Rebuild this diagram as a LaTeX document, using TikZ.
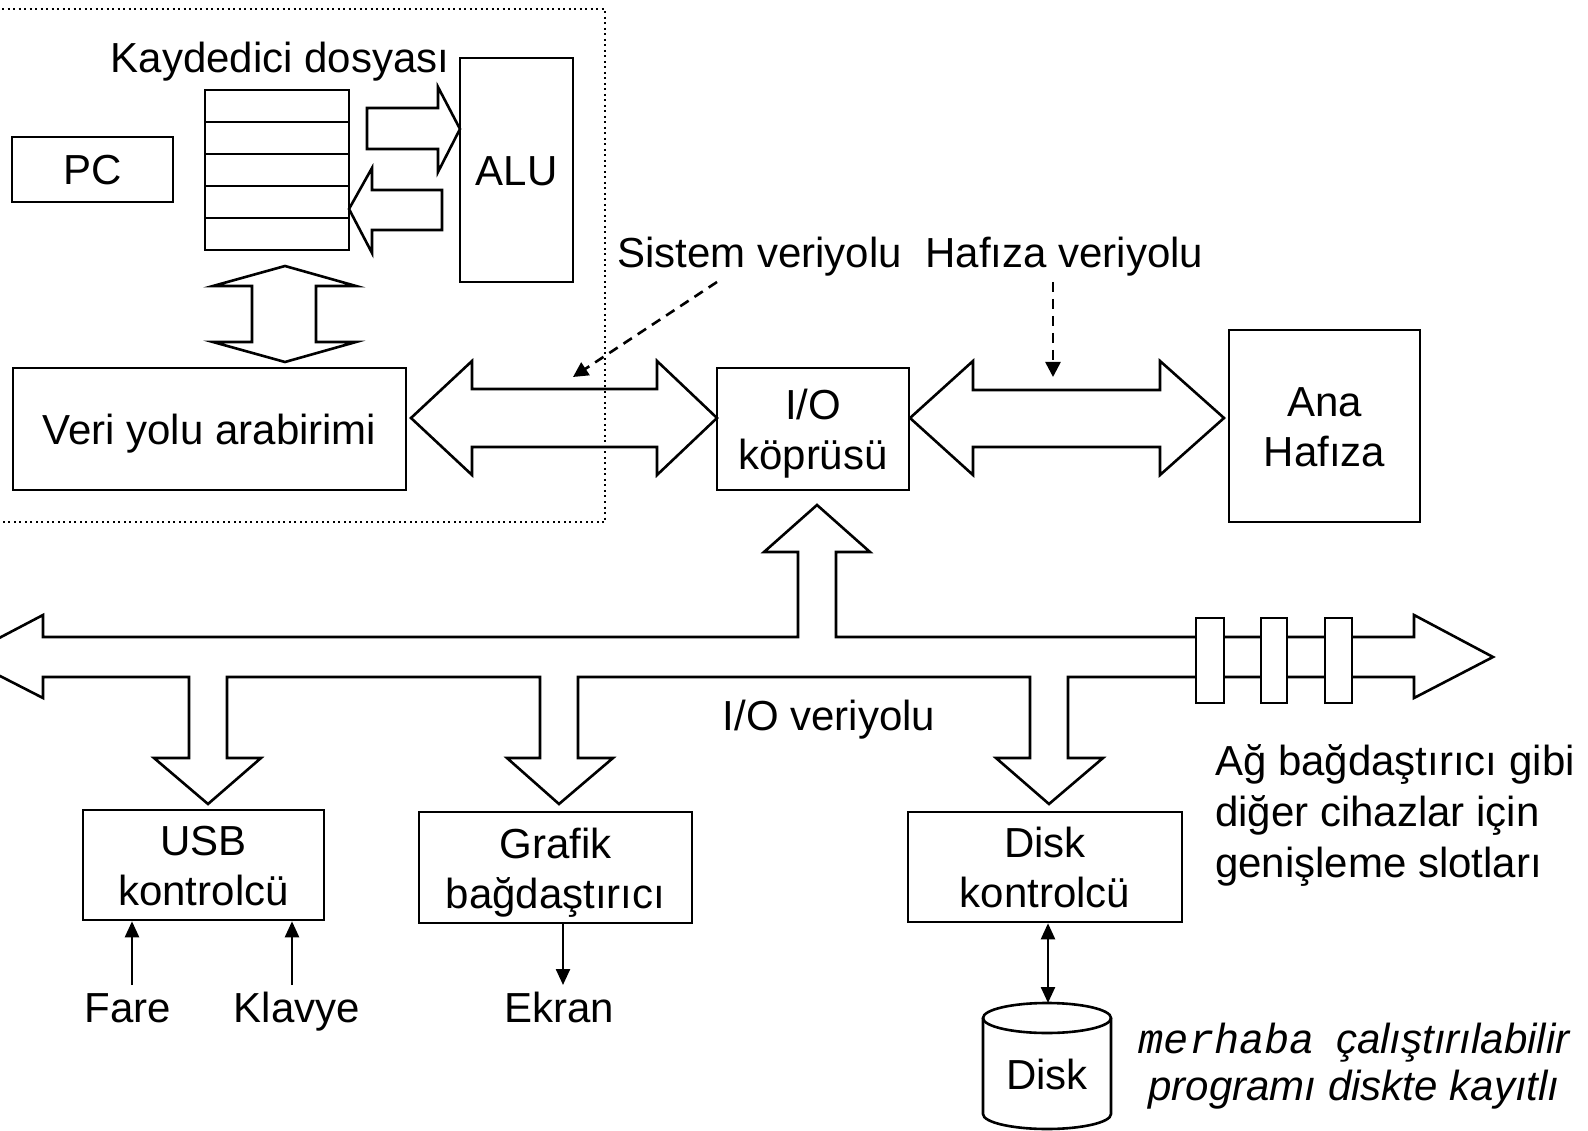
\documentclass[tikz,border=0pt]{standalone}
\usepackage{fontspec}
\setmainfont{Liberation Sans}
\setmonofont{Liberation Mono}
\usetikzlibrary{arrows.meta}
\newcommand{\fixln}[1]{\raisebox{0pt}[31pt][0pt]{#1}}
\begin{document}
\begin{tikzpicture}[x=1pt,y=-1pt,
  every node/.style={font=\fontsize{42}{50}\selectfont, inner sep=0pt},
  box/.style={draw, line width=2.6pt, align=center},
  fat/.style={draw, line width=2.6pt, line join=miter, fill=white},
  thinarr/.style={line width=2.4pt, -{Triangle[length=16pt,width=14pt]}},
  dblarr/.style={line width=2.4pt, {Triangle[length=16pt,width=14pt]}-{Triangle[length=16pt,width=14pt]}},
  dasharr/.style={line width=2.6pt, dash pattern=on 10pt off 7pt, -{Triangle[length=15pt,width=15pt]}},
  dotbox/.style={line width=2pt, dash pattern=on 2pt off 3.5pt}
]
\useasboundingbox (0,0) rectangle (1588,1131);
\clip (0,0) rectangle (1588,1131);

% register file <-> ALU fat arrows
\draw[fat] (367,108) -- (438,108) -- (438,87) -- (460,129) -- (438,172) -- (438,149) -- (367,149) -- cycle;
\draw[fat] (442,190) -- (372,190) -- (372,168) -- (349,209) -- (372,253) -- (372,230) -- (442,230) -- cycle;
% register file <-> bus interface
\draw[fat] (285,266) -- (356,286) -- (316,286) -- (316,342) -- (356,342) -- (285,362) -- (213,342) -- (252,342) -- (252,286) -- (213,286) -- cycle;
% system bus
\draw[fat] (411,418) -- (472,361) -- (472,389) -- (657,389) -- (657,361) -- (717,418) -- (657,475) -- (657,447) -- (472,447) -- (472,475) -- cycle;
% memory bus
\draw[fat] (910,418) -- (973,361) -- (973,390) -- (1160,390) -- (1160,361) -- (1224,418) -- (1160,475) -- (1160,447) -- (973,447) -- (973,475) -- cycle;
% I/O bus
\draw[fat] (-37,657) -- (43,615) -- (43,637) -- (798,637) -- (798,552) -- (764,552) -- (817,505) -- (870,552) -- (836,552) -- (836,637)
  -- (1414,637) -- (1414,615) -- (1493,657) -- (1414,698) -- (1414,677)
  -- (1068,677) -- (1068,758) -- (1103,758) -- (1049,804) -- (996,758) -- (1030,758) -- (1030,677)
  -- (578,677) -- (578,758) -- (613,758) -- (559,804) -- (507,758) -- (540,758) -- (540,677)
  -- (227,677) -- (227,758) -- (261,758) -- (208,804) -- (154,758) -- (189,758) -- (189,677)
  -- (43,677) -- (43,698) -- cycle;
% expansion slots
\draw[fat] (1196,618) rectangle (1224,703);
\draw[fat] (1261,618) rectangle (1287,703);
\draw[fat] (1325,618) rectangle (1352,703);

% CPU dotted boundary
\draw[dotbox] (-20,9.5) -- (605,9.5) -- (605,522) -- (-20,522);

% boxes
\node[box, minimum width=161pt, minimum height=65pt] (pc) at (92.5,169.5) {\fixln{PC}};
\node[box, minimum width=113pt, minimum height=224pt] (alu) at (516.5,170) {\fixln{ALU}};
\node[box, minimum width=144pt, minimum height=160pt] (reg) at (277,170) {};
\foreach \yy in {122,154,186,218} \draw[line width=2.6pt] (205,\yy) -- (349,\yy);
\node[box, minimum width=393pt, minimum height=122pt] (bif) at (209.5,429) {\fixln{Veri yolu arabirimi}};
\node[box, minimum width=192pt, minimum height=122pt] (iob) at (813,429) {\fixln{I/O}\\\fixln{köprüsü}};
\node[box, minimum width=191pt, minimum height=192pt] (mem) at (1324.5,426) {\fixln{Ana}\\\fixln{Hafıza}};
\node[box, minimum width=241pt, minimum height=110pt] (usb) at (203.5,865) {\fixln{USB}\\\fixln{kontrolcü}};
\node[box, minimum width=273pt, minimum height=111pt] (gfx) at (555.5,867.5) {\fixln{Grafik}\\\fixln{bağdaştırıcı}};
\node[box, minimum width=274pt, minimum height=110pt] (dkc) at (1045,867) {\fixln{Disk}\\\fixln{kontrolcü}};

% disk cylinder
\draw[line width=2.6pt] (983,1018) -- (983,1114) arc[start angle=180, end angle=360, x radius=64pt, y radius=15pt] -- (1111,1018);
\draw[line width=2.6pt] (1047,1018) ellipse [x radius=64pt, y radius=15pt];
\node (disk) at (1047,1073.5) {\fixln{Disk}};

% labels
\node (kd) at (280,57.5) {\fixln{Kaydedici dosyası}};
\node (sv) at (759.5,252.5) {\fixln{Sistem veriyolu}};
\node (hv) at (1064.5,252.5) {\fixln{Hafıza veriyolu}};
\node (iov) at (829,714.5) {\fixln{I/O veriyolu}};
\node (fare) at (128,1006.5) {\fixln{Fare}};
\node (klv) at (297,1006.5) {\fixln{Klavye}};
\node (ekr) at (559,1006.5) {\fixln{Ekran}};
\node[anchor=west, align=left, font=\fontsize{42}{51}\selectfont] (ag) at (1215,810.5)
  {\fixln{Ağ bağdaştırıcı gibi}\\\fixln{diğer cihazlar için}\\\fixln{genişleme slotları}};
\node[align=center, font=\fontsize{42}{47}\selectfont\itshape] (mh) at (1354,1061)
  {\fixln{{\ttfamily merhaba}\hspace{21pt}çalıştırılabilir}\\\fixln{programı diskte kayıtlı}};

% thin arrows
\coordinate (fa) at (132,985);
\coordinate (kl) at (292,985);
\coordinate (ek) at (563,985);
\coordinate (dk) at (1048,1003);
\draw[thinarr] (fa) -- (fa |- usb.south);
\draw[thinarr] (kl) -- (kl |- usb.south);
\draw[thinarr] (ek |- gfx.south) -- (ek);
\draw[dblarr] (dk |- dkc.south) -- (dk);

% dashed pointers
\coordinate (s1) at (717,282);
\coordinate (s2) at (573,377);
\coordinate (h1) at (1053,282);
\coordinate (h2) at (1053,377);
\draw[dasharr] (s1) -- (s2);
\draw[dasharr] (h1) -- (h2);
\end{tikzpicture}
\end{document}
